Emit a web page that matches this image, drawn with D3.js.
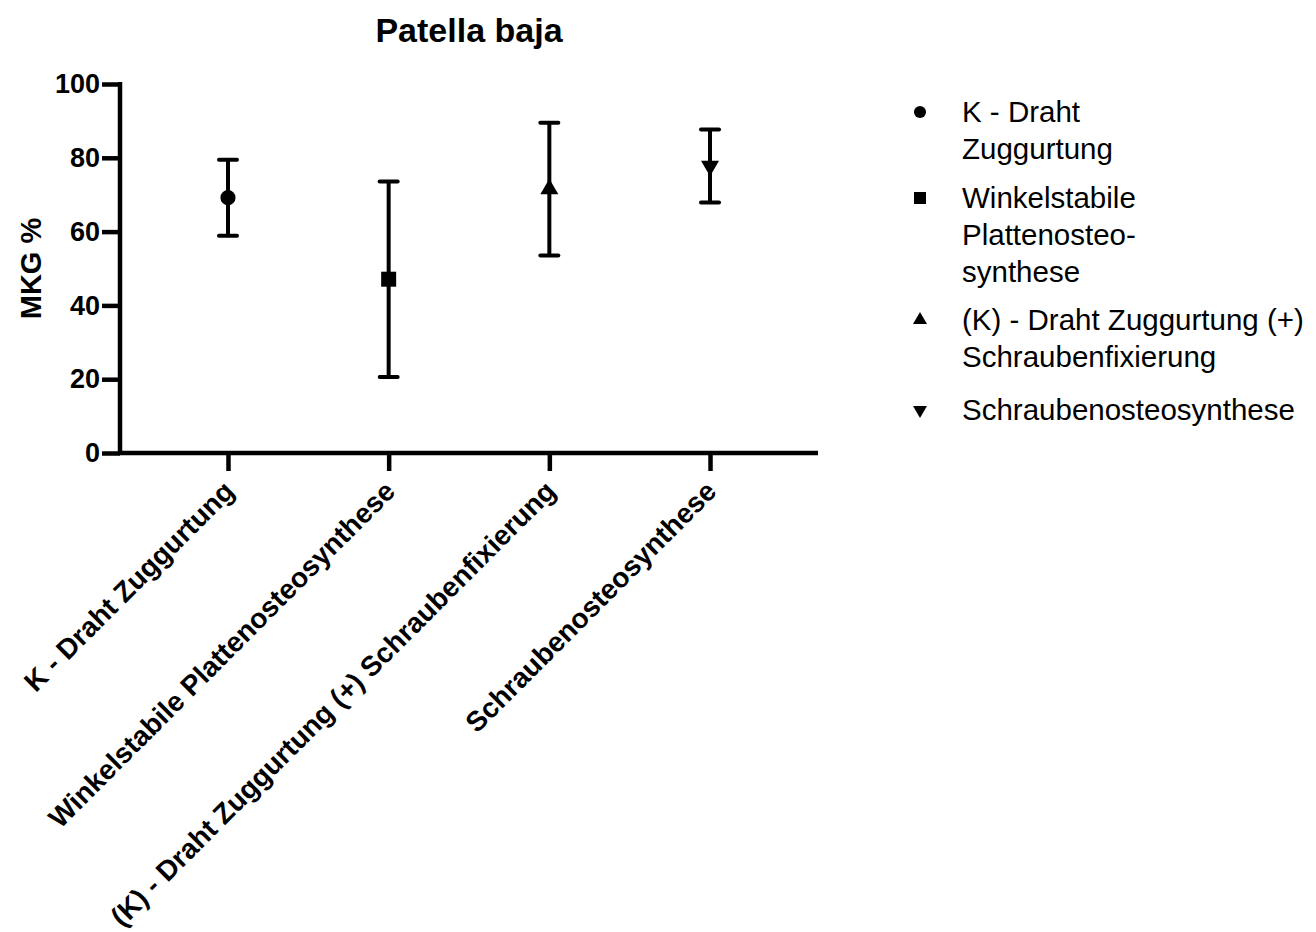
<!DOCTYPE html>
<html>
<head>
<meta charset="utf-8">
<script src="https://cdn.jsdelivr.net/npm/d3@7"></script>
<style>
  html, body { margin: 0; padding: 0; background: #fff; }
  svg { display: block; }
</style>
</head>
<body>
<svg id="chart" width="1316" height="932"></svg>
<script>
// Groups on the x axis
const categories = [
  "K - Draht Zuggurtung",
  "Winkelstabile Plattenosteosynthese",
  "(K) - Draht Zuggurtung (+) Schraubenfixierung",
  "Schraubenosteosynthese"
];
// Mean MKG % per group and the error bar half-length
const means = [69.2, 47.1, 71.5, 77.8];
const errors = [10.3, 26.5, 18.0, 9.9];
// Legend text, broken into lines
const legendLines = [
  ["K - Draht", "Zuggurtung"],
  ["Winkelstabile", "Plattenosteo-", "synthese"],
  ["(K) - Draht Zuggurtung (+)", "Schraubenfixierung"],
  ["Schraubenosteosynthese"]
];
const yTicks = [0, 20, 40, 60, 80, 100];
const title = "Patella baja";
const yTitle = "MKG %";

const FONT = "'Liberation Sans', Arial, Helvetica, sans-serif";
const svg = d3.select("#chart").attr("font-family", FONT);
const plotLeft = 120, plotRight = 818, plotTop = 84, plotBottom = 453;

const x = d3.scalePoint().domain(categories).range([plotLeft, plotRight]).padding(0.672);
const y = d3.scaleLinear().domain([0, 100]).range([plotBottom, plotTop]);

const symbolTypes = [
  { type: d3.symbolCircle, rot: 0 },
  { type: d3.symbolSquare, rot: 0 },
  { type: d3.symbolTriangle, rot: 0 },
  { type: d3.symbolTriangle, rot: 180 }
];
const plotSizes = [180, 225, 140, 140];
const legendSizes = [115, 144, 85, 85];

// Title
svg.append("text")
  .attr("x", 469).attr("y", 42)
  .attr("text-anchor", "middle")
  .attr("font-size", 34).attr("font-weight", "bold")
  .text(title);

// Y axis
const yAxis = svg.append("g")
  .attr("transform", `translate(${plotLeft},0)`)
  .call(d3.axisLeft(y).tickValues(yTicks).tickSize(18).tickSizeOuter(0).tickPadding(2));
yAxis.attr("font-family", FONT);
yAxis.select(".domain").attr("stroke", "#000").attr("stroke-width", 4.5)
  .attr("d", `M0,${plotTop - 2}V${plotBottom + 2}`);
yAxis.selectAll(".tick line").attr("stroke", "#000").attr("stroke-width", 4.5);
yAxis.selectAll(".tick text")
  .attr("font-size", 27).attr("font-weight", "bold").attr("fill", "#000");

// X axis
const xAxis = svg.append("g")
  .attr("transform", `translate(0,${plotBottom})`)
  .call(d3.axisBottom(x).tickSize(18).tickSizeOuter(0).tickFormat(""));
xAxis.select(".domain").attr("stroke", "#000").attr("stroke-width", 4.5)
  .attr("d", `M${plotLeft - 2},0H${plotRight}`);
xAxis.selectAll(".tick line").attr("stroke", "#000").attr("stroke-width", 4.5);

// Rotated category labels
svg.append("g").selectAll("text")
  .data(categories)
  .join("text")
  .attr("transform", d => `translate(${x(d) + 8},${plotBottom + 40}) rotate(-45)`)
  .attr("text-anchor", "end")
  .attr("font-size", 28).attr("font-weight", "bold")
  .text(d => d);

// Y axis title
svg.append("text")
  .attr("transform", `translate(41,${(plotTop + plotBottom) / 2}) rotate(-90)`)
  .attr("text-anchor", "middle")
  .attr("font-size", 29).attr("font-weight", "bold")
  .text(yTitle);

// Error bars
const bars = svg.append("g");
categories.forEach((c, i) => {
  const cx = x(c);
  const hi = y(means[i] + errors[i]);
  const lo = y(means[i] - errors[i]);
  bars.append("line").attr("x1", cx).attr("x2", cx).attr("y1", hi).attr("y2", lo)
    .attr("stroke", "#000").attr("stroke-width", 4);
  [hi, lo].forEach(yy => {
    bars.append("line").attr("x1", cx - 9).attr("x2", cx + 9).attr("y1", yy).attr("y2", yy)
      .attr("stroke", "#000").attr("stroke-width", 4).attr("stroke-linecap", "round");
  });
});

// Markers
svg.append("g").selectAll("path")
  .data(categories)
  .join("path")
  .attr("d", (d, i) => d3.symbol().type(symbolTypes[i].type).size(plotSizes[i])())
  .attr("transform", (d, i) => `translate(${x(d)},${y(means[i])}) rotate(${symbolTypes[i].rot})`)
  .attr("fill", "#000");

// Legend
const legendX = 920, textX = 962;
const legendY = [112, 198, 320, 410];
const lineH = 37;
const legend = svg.append("g");
legendLines.forEach((lines, i) => {
  legend.append("path")
    .attr("d", d3.symbol().type(symbolTypes[i].type).size(legendSizes[i])())
    .attr("transform", `translate(${legendX},${legendY[i]}) rotate(${symbolTypes[i].rot})`)
    .attr("fill", "#000");
  const t = legend.append("text")
    .attr("x", textX).attr("y", legendY[i])
    .attr("font-size", 29.5);
  lines.forEach((ln, j) => {
    t.append("tspan").attr("x", textX).attr("y", legendY[i] + j * lineH).attr("dy", "0.35em").text(ln);
  });
});
</script>
</body>
</html>
